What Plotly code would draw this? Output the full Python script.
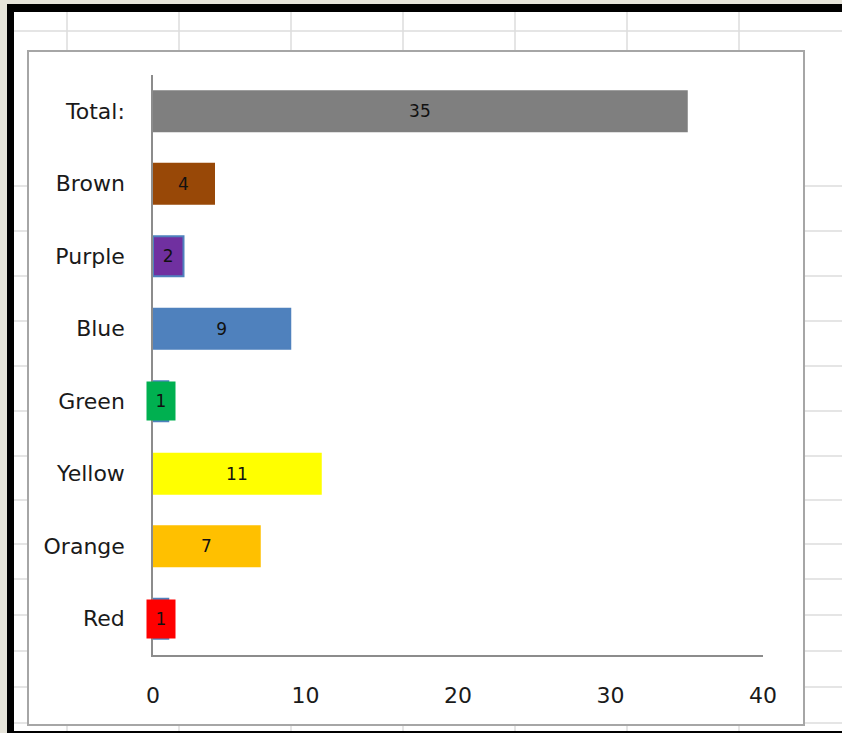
import plotly.graph_objects as go

# ---- data ----
categories = ["Red", "Orange", "Yellow", "Green", "Blue", "Purple", "Brown", "Total:"]
values = [1, 7, 11, 1, 9, 2, 4, 35]
bar_colors = ["#4f81bd", "#ffc000", "#ffff00", "#4f81bd", "#4f81bd", "#7030a0", "#984807", "#7f7f7f"]
outline_colors = ["#4f81bd", "#ffc000", "#ffff00", "#4f81bd", "#4f81bd", "#4f81bd", "#984807", "#7f7f7f"]
# labels drawn as filled boxes (Excel data-label fill)
boxed_labels = {"Red": "#ff0000", "Green": "#00b050"}
x_ticks = [0, 10, 20, 30, 40]

W, H = 842, 733
L, R, T, B = 153, 79, 75, 78
PW, PH = W - L - R, H - T - B


def px(x):
    return (x - L) / PW


def py(y):
    return 1 - (y - T) / PH


FONT = "'DejaVu Sans', sans-serif"

texts = ["" if c in boxed_labels else str(v) for c, v in zip(categories, values)]

fig = go.Figure()
fig.add_trace(go.Bar(
    y=categories, x=values, orientation="h",
    marker=dict(color=bar_colors, line=dict(color=outline_colors, width=2)),
    width=0.55,
    text=texts, textposition="inside", insidetextanchor="middle",
    textfont=dict(family=FONT, size=17, color="#111111"),
    constraintext="none",
    hoverinfo="x+y",
))

annotations = []
for c, v in zip(categories, values):
    if c in boxed_labels:
        annotations.append(dict(
            x=v / 2, y=c, xref="x", yref="y", text=str(v), showarrow=False,
            bgcolor=boxed_labels[c], width=26, height=36,
            font=dict(family=FONT, size=17, color="#111111"),
            xanchor="center", yanchor="middle",
        ))

shapes = []


def rect(x0, y0, x1, y1, fill, line_color=None, lw=0):
    shapes.append(dict(type="rect", xref="paper", yref="paper",
                       x0=px(x0), x1=px(x1), y0=py(y1), y1=py(y0),
                       fillcolor=fill,
                       line=dict(color=line_color or fill, width=lw),
                       layer="below"))


def line(x0, y0, x1, y1, color, lw):
    shapes.append(dict(type="line", xref="paper", yref="paper",
                       x0=px(x0), x1=px(x1), y0=py(y0), y1=py(y1),
                       line=dict(color=color, width=lw), layer="below"))


# outer screen background / black frame / white sheet
rect(-5, -5, W + 5, H + 5, "#e6e4da")
rect(7, 4, W + 5, H + 5, "#000000")
rect(14, 12, W + 5, 731, "#ffffff")
# spreadsheet grid
grid_c = "#dddddd"
line(14, 31, W + 5, 31, grid_c, 1.5)
for gy in [186, 231, 276, 321, 366, 411, 456, 500, 544, 579, 615, 651, 687, 723]:
    line(14, gy, W + 5, gy, grid_c, 1.5)
for gx in [67, 179, 291, 403, 515, 627, 739]:
    line(gx, 12, gx, 731, grid_c, 1.5)
# chart area
rect(28, 51, 804, 725, "#ffffff", "#a6a6a6", 2)

fig.update_layout(
    width=W, height=H,
    margin=dict(l=L, r=R, t=T, b=B, pad=0),
    paper_bgcolor="#ffffff",
    plot_bgcolor="rgba(0,0,0,0)",
    showlegend=False,
    shapes=shapes,
    annotations=annotations,
    font=dict(family=FONT, size=22, color="#1a1a1a"),
    bargap=0.45,
)
fig.update_xaxes(
    range=[0, 40], tickvals=x_ticks, ticktext=[str(t) for t in x_ticks],
    showgrid=False, zeroline=False,
    showline=True, linecolor="#8c8c8c", linewidth=1.5,
    ticks="outside", ticklen=20, tickcolor="rgba(0,0,0,0)",
    tickfont=dict(family=FONT, size=22, color="#1a1a1a"),
    fixedrange=True,
)
fig.update_yaxes(
    categoryorder="array", categoryarray=categories,
    range=[-0.5, len(categories) - 0.5],
    showgrid=False, zeroline=False,
    showline=True, linecolor="#8c8c8c", linewidth=1.5,
    ticks="outside", ticklen=22, tickcolor="rgba(0,0,0,0)",
    tickfont=dict(family=FONT, size=22, color="#1a1a1a"),
    fixedrange=True,
)

fig.write_html(
    "out.html",
    config={"displayModeBar": False},
    post_script="document.body.style.margin='0';document.body.style.overflow='hidden';",
)
